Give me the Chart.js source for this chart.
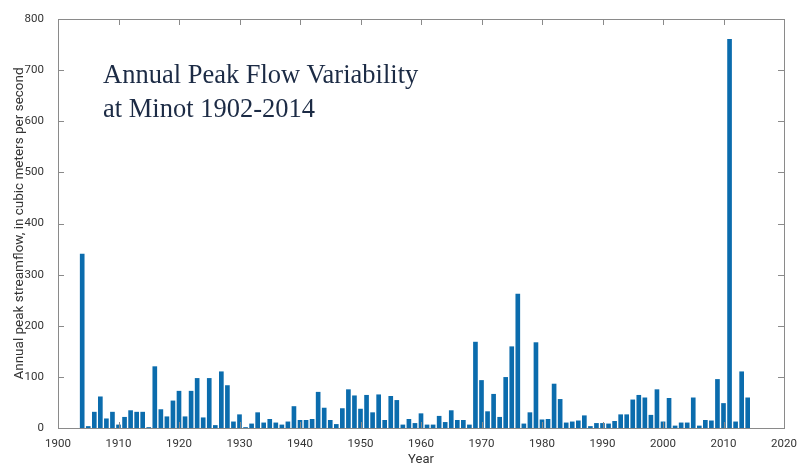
<!DOCTYPE html>
<html>
<head>
<meta charset="utf-8">
<script src="https://cdn.jsdelivr.net/npm/chart.js@4/dist/chart.umd.min.js"></script>
<style>
  html, body { margin: 0; padding: 0; background: #fff; }
  #wrap { position: relative; width: 810px; height: 468px; }
  #title {
    position: absolute; left: 103px; top: 57px;
    font-family: 'Liberation Serif', 'DejaVu Serif', serif;
    font-size: 26.5px; line-height: 34px; color: #1c2b45;
  }
</style>
</head>
<body>
<div id="wrap">
  <canvas id="flowChart" width="810" height="468"></canvas>
  <div id="title">Annual Peak Flow Variability<br>at Minot 1902-2014</div>
</div>
<script>
var firstYear = 1904;
var peakFlow = [
  340, 3, 31, 61, 18, 31, 6, 21, 34, 31,
  31, 1, 120, 36, 22, 53, 72, 22, 72, 97,
  20, 97, 5, 110, 83, 12, 26, 1, 8, 30,
  10, 17, 10, 6, 12, 42, 15, 15, 17, 70,
  39, 15, 7, 38, 75, 63, 37, 64, 30, 65,
  15, 62, 54, 6, 17, 9, 28, 6, 6, 23,
  11, 34, 15, 15, 6, 168, 93, 32, 66, 21,
  99, 159, 262, 8, 30, 167, 16, 17, 86, 56,
  10, 12, 14, 24, 3, 9, 9, 8, 13, 26,
  26, 55, 64, 59, 25, 75, 12, 58, 4, 10,
  10, 59, 4, 15, 14, 95, 48, 760, 12, 110,
  59
];
var years = peakFlow.map((v, i) => firstYear + i);
var xTicks = [1900, 1910, 1920, 1930, 1940, 1950, 1960, 1970, 1980, 1990, 2000, 2010, 2020];
var yTicks = [0, 100, 200, 300, 400, 500, 600, 700, 800];

var axisFont = { family: "Roboto, 'Liberation Sans', sans-serif", size: 11.5 };

// frame with inward tick marks on all four sides
var frameTicks = {
  id: 'frameTicks',
  afterDraw(chart) {
    var ctx = chart.ctx, a = chart.chartArea;
    var xs = chart.scales.x, ys = chart.scales.y;
    ctx.save();
    ctx.strokeStyle = '#8a8a8a';
    ctx.lineWidth = 1;
    ctx.strokeRect(a.left + 0.5, a.top + 0.5, a.right - a.left, a.bottom - a.top);
    ctx.beginPath();
    xTicks.forEach(t => {
      var px = Math.round(xs.getPixelForValue(t)) + 0.5;
      ctx.moveTo(px, a.top); ctx.lineTo(px, a.top + 6);
      ctx.moveTo(px, a.bottom); ctx.lineTo(px, a.bottom - 6);
    });
    yTicks.forEach(t => {
      var py = Math.round(ys.getPixelForValue(t)) + 0.5;
      ctx.moveTo(a.left, py); ctx.lineTo(a.left + 6, py);
      ctx.moveTo(a.right, py); ctx.lineTo(a.right - 6, py);
    });
    ctx.stroke();
    ctx.restore();
  }
};

new Chart('flowChart', {
  type: 'bar',
  data: {
    labels: years,
    datasets: [{
      label: 'Annual peak streamflow',
      data: peakFlow.map((v, i) => ({ x: years[i], y: v })),
      backgroundColor: '#0b6cad',
      borderWidth: 0,
      barThickness: 4
    }]
  },
  options: {
    responsive: false,
    animation: false,
    layout: { padding: { top: 19, right: 26, left: 12, bottom: 0 } },
    plugins: { legend: { display: false }, tooltip: { enabled: false } },
    scales: {
      x: {
        type: 'linear',
        offset: false,
        min: 1900, max: 2020,
        afterBuildTicks: s => { s.ticks = xTicks.map(v => ({ value: v })); },
        grid: { display: false },
        border: { display: false },
        ticks: { color: '#333', font: axisFont, padding: 1, maxRotation: 0, callback: v => String(v) },
        title: { display: true, text: 'Year', color: '#333', font: { family: axisFont.family, size: 13 }, padding: { top: -2, bottom: 0 } },
        afterFit: s => { s.height = 40; }
      },
      y: {
        min: 0, max: 800,
        afterBuildTicks: s => { s.ticks = yTicks.map(v => ({ value: v })); },
        grid: { display: false },
        border: { display: false },
        ticks: { color: '#333', font: axisFont, padding: 6 },
        title: {
          display: true,
          text: 'Annual peak streamflow, in cubic meters per second',
          color: '#333', font: { family: axisFont.family, size: 13.5 }, padding: { top: 0, bottom: 0 }
        },
        afterFit: s => { s.width = 46; }
      }
    }
  },
  plugins: [frameTicks]
});
</script>
</body>
</html>
